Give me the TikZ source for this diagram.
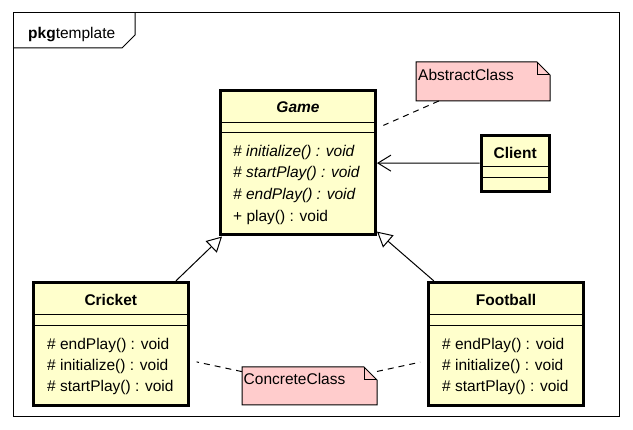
\documentclass[tikz,border=0pt]{standalone}
\usepackage{fontspec}
\setmainfont{Liberation Sans}
\usepackage{tikz}
\usetikzlibrary{arrows.meta}
\definecolor{clsyellow}{RGB}{255,255,204}
\definecolor{notepink}{RGB}{255,204,204}
\newcommand{\umlfont}{\fontsize{15.5}{18}\selectfont}

\begin{document}
\begin{tikzpicture}[x=1pt, y=-1pt,
		cls/.style={draw, line width=3pt, fill=clsyellow, inner sep=0pt},
		notebox/.style={inner sep=0pt, outer sep=0pt},
		ttl/.style={inner sep=0pt, anchor=base, font=\umlfont\bfseries},
		oper/.style={inner sep=0pt, anchor=base west, font=\umlfont},
		thinline/.style={line width=1pt},
		notelink/.style={line width=1pt, dash pattern=on 6pt off 5pt, shorten >=7pt}]
		  % Fix the page to the size of the diagram
		  \useasboundingbox (0,0) rectangle (633,430);
		
		  % Package frame and its tab
		  \draw[thinline] (13,13) rectangle (619.5,417);
		  \draw[thinline] (13,48) -- (122,48) -- (135,35) -- (135,13);
		  \node[oper] (pkg) at (28,38.3) {\textbf{pkg}template};
		
		  % Abstract class Game
		  \node[cls, minimum width=155pt, minimum height=144pt] (game) at (298,163) {};
		  \draw[thinline] (220.5,122.3) -- (375.5,122.3);
		  \draw[thinline] (220.5,132.7) -- (375.5,132.7);
		  \node[ttl, font=\umlfont\bfseries\itshape] (gamename) at (298,113) {Game};
		  \node[oper, font=\umlfont\itshape] (gameop1) at (233,156.5) {\# initialize() : void};
		  \node[oper, font=\umlfont\itshape] (gameop2) at (233,177.8) {\# startPlay() : void};
		  \node[oper, font=\umlfont\itshape] (gameop3) at (233,199.5) {\# endPlay() : void};
		  \node[oper] (gameop4) at (233,221.2) {+ play() : void};
		
		  % Client
		  \node[cls, minimum width=68.3pt, minimum height=56pt] (client) at (515.2,163.3) {};
		  \draw[thinline] (481,167) -- (549.3,167);
		  \draw[thinline] (481,177.3) -- (549.3,177.3);
		  \node[ttl] (clientname) at (515.2,158.3) {Client};
		
		  % Concrete class Cricket
		  \node[cls, minimum width=155pt, minimum height=122.7pt] (cricket) at (110.8,343.7) {};
		  \draw[thinline] (33.3,315) -- (188.3,315);
		  \draw[thinline] (33.3,325.7) -- (188.3,325.7);
		  \node[ttl] (cricketname) at (110.8,306) {Cricket};
		  \node[oper] (cricketop1) at (47,349.2) {\# endPlay() : void};
		  \node[oper] (cricketop2) at (47,370.3) {\# initialize() : void};
		  \node[oper] (cricketop3) at (47,391.6) {\# startPlay() : void};
		
		  % Concrete class Football
		  \node[cls, minimum width=155pt, minimum height=122.7pt] (football) at (506,343.7) {};
		  \draw[thinline] (428.5,315) -- (583.5,315);
		  \draw[thinline] (428.5,325.7) -- (583.5,325.7);
		  \node[ttl] (footballname) at (506,306) {Football};
		  \node[oper] (footballop1) at (442,349.2) {\# endPlay() : void};
		  \node[oper] (footballop2) at (442,370.3) {\# initialize() : void};
		  \node[oper] (footballop3) at (442,391.6) {\# startPlay() : void};
		
		  % Note for the abstract class
		  \node[notebox, minimum width=134pt, minimum height=39pt] (abstractnote) at (483,81.5) {};
		  \filldraw[thinline, fill=notepink] (abstractnote.south west) -- (abstractnote.north west)
		    -- ([xshift=-13pt]abstractnote.north east) -- ([yshift=-13pt]abstractnote.north east)
		    -- (abstractnote.south east) -- cycle;
		  \draw[thinline] ([xshift=-13pt]abstractnote.north east) -- ++(0,13) -- ++(13,0);
		  \node[oper] (abstracttext) at (418,80.7) {AbstractClass};
		
		  % Note for the concrete classes
		  \node[notebox, minimum width=135pt, minimum height=38pt] (concretenote) at (309.5,386) {};
		  \filldraw[thinline, fill=notepink] (concretenote.south west) -- (concretenote.north west)
		    -- ([xshift=-13pt]concretenote.north east) -- ([yshift=-13pt]concretenote.north east)
		    -- (concretenote.south east) -- cycle;
		  \draw[thinline] ([xshift=-13pt]concretenote.north east) -- ++(0,13) -- ++(13,0);
		  \node[oper] (concretetext) at (243.5,385) {ConcreteClass};
		
		  % Association and generalizations
		  \draw[thinline, -{Straight Barb[length=13pt, width=16pt]}] (client) -- (game);
		  \draw[thinline, -{Triangle[open, length=15pt, width=16pt]}] (cricket) -- (game);
		  \draw[thinline, -{Triangle[open, length=15pt, width=16pt]}] (football) -- (game);
		
		  % Note links
		  \draw[notelink] (abstractnote) -- (game);
		  \draw[notelink] (concretenote) -- (cricket);
		  \draw[notelink] (concretenote) -- (football);
		\end{tikzpicture}
\end{document}
